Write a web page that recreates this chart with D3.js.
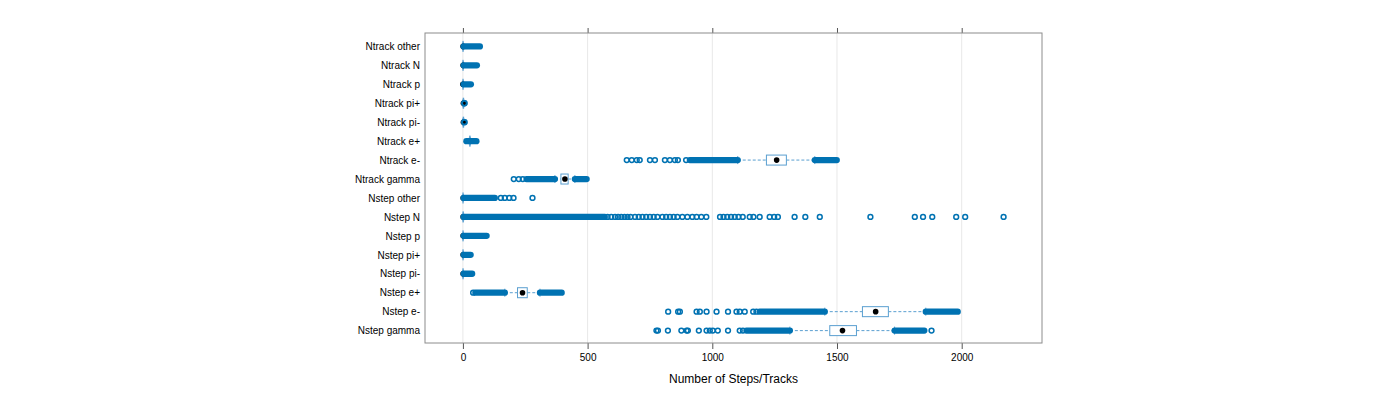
<!DOCTYPE html>
<html>
<head>
<meta charset="utf-8">
<script src="https://cdn.jsdelivr.net/npm/d3@7"></script>
<style>
  body { margin: 0; background: #fff; }
  text { font-family: "Liberation Sans", Arial, sans-serif; }
</style>
</head>
<body>
<div id="chart"></div>
<script>
// categories, top to bottom
var categories = ["Ntrack other", "Ntrack N", "Ntrack p", "Ntrack pi+", "Ntrack pi-",
  "Ntrack e+", "Ntrack e-", "Ntrack gamma", "Nstep other", "Nstep N", "Nstep p",
  "Nstep pi+", "Nstep pi-", "Nstep e+", "Nstep e-", "Nstep gamma"];

// [lower whisker, q1, median, q3, upper whisker]
var boxStats = [
  [0, 0, 1, 1, 2], [0, 0, 1, 1, 2], [0, 0, 0, 1, 2], [0, 1, 2, 3, 4], [0, 1, 2, 3, 4],
  [26, 27, 28, 29, 30], [1102, 1217, 1258, 1297, 1411], [369, 393, 409, 422, 449],
  [0, 0, 1, 1, 2], [0, 0, 1, 2, 3], [0, 0, 1, 1, 2], [0, 0, 1, 1, 2],
  [0, 0, 1, 1, 2], [168, 219, 239, 258, 309], [1451, 1602, 1655, 1706, 1856],
  [1311, 1471, 1522, 1578, 1731]
];

// runs of outliers so dense they merge into one band: [from, to]
var denseRuns = [
  [[3, 68]], [[3, 56]], [[3, 32]], [], [],
  [[14, 54]], [[910, 1102], [1411, 1499]], [[255, 369], [449, 496]],
  [[3, 128]], [[3, 569]], [[3, 95]], [[3, 31]], [[3, 37]],
  [[50, 168], [309, 396]], [[1190, 1451], [1856, 1984]], [[1137, 1311], [1731, 1850]]
];

// separate outliers
var outliers = [
  [], [], [], [5, 7], [5, 7],
  [],
  [657, 677, 697, 709, 750, 770, 810, 830, 850, 862, 895],
  [204, 224, 240],
  [152, 168, 186, 203, 279],
  [580, 595, 610, 622, 635, 648, 660, 672, 690, 705, 720, 735, 750, 765, 780, 800, 815,
   830, 845, 860, 880, 900, 920, 937, 956, 976, 1031, 1045, 1060, 1075, 1090, 1105, 1122,
   1150, 1165, 1190, 1230, 1248, 1263, 1330, 1373, 1431, 1634, 1812, 1845, 1882, 1978,
   2014, 2168],
  [], [], [],
  [41],
  [823, 863, 870, 937, 950, 977, 1017, 1063, 1097, 1110, 1130, 1164, 1177],
  [776, 782, 822, 876, 897, 902, 946, 977, 990, 1002, 1022, 1063, 1110, 1123, 1879]
];

var xTicks = [0, 500, 1000, 1500, 2000];
var xDomain = [-152, 2322];

var PT = "#0072b2", BOX = "#5a9fd0";
var R = 2.4;

// set the dimensions and margins of the graph
var margin = {top: 33, right: 358, bottom: 57, left: 425},
    width = 1400 - margin.left - margin.right,
    height = 400 - margin.top - margin.bottom;

var svg = d3.select("#chart")
  .append("svg")
    .attr("width", 1400)
    .attr("height", 400)
  .append("g")
    .attr("transform", "translate(" + margin.left + "," + margin.top + ")");

var x = d3.scaleLinear().domain(xDomain).range([0, width]);
var y = d3.scalePoint().domain(categories).range([0.5, height + 0.5]).padding(0.68);

// grid
svg.selectAll(".grid")
  .data(xTicks)
  .enter().append("line")
    .attr("x1", function(d) { return x(d); })
    .attr("x2", function(d) { return x(d); })
    .attr("y1", 0).attr("y2", height)
    .attr("stroke", "#e8e8e8");

// bottom axis
var xb = svg.append("g")
  .attr("transform", "translate(0," + height + ")")
  .call(d3.axisBottom(x).tickValues(xTicks).tickFormat(d3.format("d"))
    .tickSize(6).tickPadding(5).tickSizeOuter(0));
xb.select(".domain").remove();
xb.selectAll(".tick line").attr("stroke", "#555");
xb.selectAll("text").attr("font-size", 10).attr("fill", "#000");

// top ticks
var xt = svg.append("g")
  .call(d3.axisTop(x).tickValues(xTicks).tickSize(5).tickFormat(""));
xt.select(".domain").remove();
xt.selectAll(".tick line").attr("stroke", "#555");

// y labels
var ya = svg.append("g")
  .call(d3.axisLeft(y).tickSize(0).tickPadding(5));
ya.select(".domain").remove();
ya.selectAll("text").attr("font-size", 10).attr("fill", "#000");

var rows = svg.selectAll(".row")
  .data(categories)
  .enter().append("g")
    .attr("transform", function(d) { return "translate(0," + y(d) + ")"; });

// whiskers, box, median
rows.each(function(d, i) {
  var s = boxStats[i], g = d3.select(this), bh = 10;
  g.selectAll(".wh").data([[s[0], s[1]], [s[3], s[4]]])
    .enter().append("line")
      .attr("x1", function(w) { return x(w[0]); })
      .attr("x2", function(w) { return x(w[1]); })
      .attr("stroke", BOX).attr("stroke-dasharray", "3,2");
  g.selectAll(".cap").data([s[0], s[4]])
    .enter().append("line")
      .attr("x1", function(w) { return x(w); })
      .attr("x2", function(w) { return x(w); })
      .attr("y1", -4).attr("y2", 4)
      .attr("stroke", BOX);
  g.append("rect")
    .attr("x", x(s[1])).attr("width", x(s[3]) - x(s[1]))
    .attr("y", -bh / 2).attr("height", bh)
    .attr("fill", "#fff").attr("stroke", BOX);
  g.append("circle")
    .attr("cx", x(s[2])).attr("r", 2.8).attr("fill", "#000");
});

// outliers: dense bands and single points
rows.each(function(d, i) {
  d3.select(this).selectAll(".run")
    .data(denseRuns[i])
    .enter().append("rect")
      .attr("x", function(r) { return x(r[0]) - R - 0.75; })
      .attr("width", function(r) { return x(r[1]) - x(r[0]) + 2 * R + 1.5; })
      .attr("y", -R - 0.75).attr("height", 2 * R + 1.5)
      .attr("rx", R + 0.75)
      .attr("fill", PT);
  d3.select(this).selectAll(".pt")
    .data(outliers[i])
    .enter().append("circle")
      .attr("cx", function(v) { return x(v); })
      .attr("r", R)
      .attr("fill", "none")
      .attr("stroke", PT)
      .attr("stroke-width", 1.5);
});

// frame
svg.append("rect")
  .attr("width", width).attr("height", height)
  .attr("fill", "none").attr("stroke", "#8c8c8c");

// x axis label
svg.append("text")
  .attr("x", width / 2)
  .attr("y", height + 40)
  .attr("text-anchor", "middle")
  .attr("font-size", 12)
  .text("Number of Steps/Tracks");
</script>
</body>
</html>
